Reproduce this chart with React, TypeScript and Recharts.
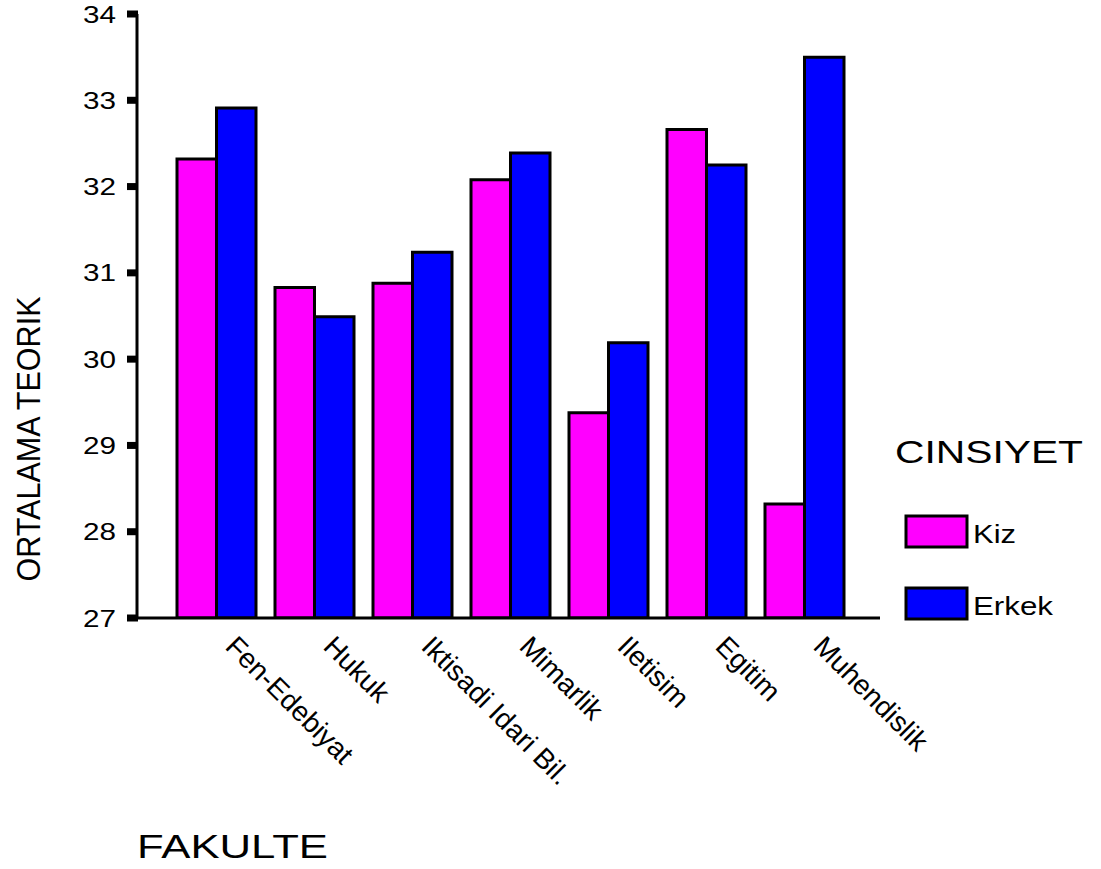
import { BarChart, Bar, XAxis, YAxis } from "recharts";

const FONT = '"Liberation Sans", Arial, sans-serif';

const faculties = [
  "Fen-Edebiyat",
  "Hukuk",
  "Iktisadi Idari Bil.",
  "Mimarlik",
  "Iletisim",
  "Egitim",
  "Muhendislik",
];
const kizValues = [32.32, 30.83, 30.88, 32.08, 29.38, 32.66, 28.32];
const erkekValues = [32.91, 30.49, 31.24, 32.39, 30.19, 32.25, 33.5];
const yTicks = [27, 28, 29, 30, 31, 32, 33, 34];
const seriesNames = ["Kiz", "Erkek"];
const seriesColors = ["#FF00FF", "#0000FF"];

const data = faculties.map((f, i) => ({
  fakulte: f,
  Kiz: kizValues[i],
  Erkek: erkekValues[i],
}));

// label text plus the small square tick mark SPSS draws on the axis
const YTick = (props: any) => {
  const x = Number(props.x);
  const y = Number(props.y);
  return (
    <g>
      <rect x={x + 11} y={y - 3.5} width={11} height={7} fill="#000" />
      <text
        x={x}
        y={y}
        dy={8.5}
        textAnchor="end"
        fontSize={24}
        fontFamily={FONT}
        fill="#000"
        textLength={33}
        lengthAdjust="spacingAndGlyphs"
      >
        {props.payload.value}
      </text>
    </g>
  );
};

const XTick = (props: any) => {
  const x = Number(props.x);
  const y = Number(props.y);
  return (
    <g transform={`translate(${x + 8},${y + 22})`}>
      <text
        transform="rotate(45)"
        textAnchor="start"
        fontSize={28}
        fontFamily={FONT}
        fill="#000"
      >
        {props.payload.value}
      </text>
    </g>
  );
};

export default function App() {
  return (
    <div style={{ position: "absolute", left: 0, top: 0, width: 1101, height: 869, background: "#fff" }}>
      <BarChart
        width={1101}
        height={869}
        data={data}
        margin={{ top: 14, right: 221, bottom: 0, left: 0 }}
        barSize={39.5}
        barGap={0}
      >
        <XAxis
          dataKey="fakulte"
          height={251}
          interval={0}
          padding={{ left: 30, right: 27 }}
          tickLine={false}
          axisLine={{ stroke: "#000", strokeWidth: 3 }}
          tick={<XTick />}
        />
        <XAxis
          xAxisId="top"
          orientation="top"
          dataKey="fakulte"
          height={0}
          tick={false}
          tickLine={false}
          axisLine={{ stroke: "#000", strokeWidth: 2 }}
        />
        <YAxis
          width={137}
          domain={[27, 34]}
          ticks={yTicks}
          allowDataOverflow
          tickSize={9}
          tickMargin={12}
          tickLine={false}
          axisLine={{ stroke: "#000", strokeWidth: 3 }}
          tick={<YTick />}
        />
        <YAxis
          yAxisId="right"
          orientation="right"
          width={0}
          domain={[27, 34]}
          tick={false}
          tickLine={false}
          axisLine={{ stroke: "#333", strokeWidth: 1.5 }}
        />
        {seriesNames.map((name, i) => (
          <Bar
            key={name}
            dataKey={name}
            fill={seriesColors[i]}
            stroke="#000"
            strokeWidth={3}
            isAnimationActive={false}
          />
        ))}
      </BarChart>
      <svg
        width={1101}
        height={869}
        style={{ position: "absolute", left: 0, top: 0, pointerEvents: "none" }}
      >
        <text
          transform="translate(40,439) rotate(-90)"
          textAnchor="middle"
          fontSize={34}
          fontFamily={FONT}
          fill="#000"
          textLength={285}
          lengthAdjust="spacingAndGlyphs"
        >
          ORTALAMA TEORIK
        </text>
        <text
          x={137}
          y={858}
          fontSize={34}
          fontFamily={FONT}
          fill="#000"
          textLength={191}
          lengthAdjust="spacingAndGlyphs"
        >
          FAKULTE
        </text>
        <text
          x={895}
          y={463}
          fontSize={31}
          fontFamily={FONT}
          fill="#000"
          textLength={188}
          lengthAdjust="spacingAndGlyphs"
        >
          CINSIYET
        </text>
        {seriesNames.map((name, i) => (
          <g key={name} transform={`translate(0,${i * 72})`}>
            <rect x={906} y={516} width={61} height={31} fill={seriesColors[i]} stroke="#000" strokeWidth={3} />
            <text
              x={973}
              y={543}
              fontSize={26}
              fontFamily={FONT}
              fill="#000"
              textLength={name === "Kiz" ? 43 : 80}
              lengthAdjust="spacingAndGlyphs"
            >
              {name}
            </text>
          </g>
        ))}
      </svg>
    </div>
  );
}
